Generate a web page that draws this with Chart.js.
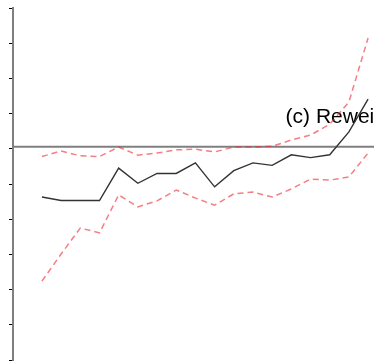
<!DOCTYPE html>
<html>
<head>
<meta charset="utf-8">
<script src="https://cdn.jsdelivr.net/npm/chart.js@4/dist/chart.umd.min.js"></script>
<style>
  html, body { margin: 0; padding: 0; background: #fff; overflow: hidden; }
  #wrap { width: 374px; height: 361px; position: relative; }
</style>
</head>
<body>
<div id="wrap"><canvas id="c"></canvas></div>
<script>
// Period index along the horizontal axis
const periods = [1, 2, 3, 4, 5, 6, 7, 8, 9, 10, 11, 12, 13, 14, 15, 16, 17, 18];

// Point estimate (solid line)
const estimate = [-0.137, -0.147, -0.147, -0.147, -0.055, -0.098, -0.070, -0.070, -0.040,
                  -0.108, -0.062, -0.040, -0.047, -0.017, -0.025, -0.017, 0.048, 0.141];

// Upper and lower confidence bounds (dashed lines)
const upperBand = [-0.022, -0.006, -0.020, -0.022, 0.005, -0.018, -0.012, -0.003, -0.001,
                   -0.009, 0.005, 0.005, 0.007, 0.025, 0.039, 0.070, 0.133, 0.315];
const lowerBand = [-0.376, -0.299, -0.225, -0.239, -0.131, -0.165, -0.148, -0.117, -0.140,
                   -0.160, -0.128, -0.123, -0.137, -0.114, -0.086, -0.089, -0.080, -0.012];

// Vertical axis tick values (labels are not shown)
const yTicks = [0.4, 0.3, 0.2, 0.1, 0.0, -0.1, -0.2, -0.3, -0.4, -0.5, -0.6];

// Horizontal reference level
const referenceLevel = 0.006;

// Panel caption
const panelLabel = '(c) Reweighted';

const toXY = arr => arr.map((v, i) => ({ x: periods[i], y: v }));

const overlay = {
  id: 'overlay',
  beforeDatasetsDraw(chart) {
    const { ctx, chartArea, scales } = chart;
    const y = scales.y.getPixelForValue(referenceLevel);
    ctx.save();
    ctx.strokeStyle = '#7f7f7f';
    ctx.lineWidth = 2;
    ctx.beginPath();
    ctx.moveTo(chartArea.left, y);
    ctx.lineTo(chart.width, y);
    ctx.stroke();

    ctx.fillStyle = '#000';
    ctx.font = '21px "Liberation Sans", Arial, sans-serif';
    ctx.textBaseline = 'alphabetic';
    ctx.textAlign = 'left';
    ctx.fillText(panelLabel, scales.x.getPixelForValue(13.7), scales.y.getPixelForValue(0.073));
    ctx.restore();
  }
};

new Chart(document.getElementById('c'), {
  type: 'line',
  data: {
    datasets: [
      {
        data: toXY(upperBand),
        borderColor: 'rgba(235, 40, 50, 0.6)',
        borderWidth: 1.5,
        borderDash: [6, 4],
        pointRadius: 0,
        tension: 0
      },
      {
        data: toXY(lowerBand),
        borderColor: 'rgba(235, 40, 50, 0.6)',
        borderWidth: 1.5,
        borderDash: [6, 4],
        pointRadius: 0,
        tension: 0
      },
      {
        data: toXY(estimate),
        borderColor: '#333333',
        borderWidth: 1.4,
        pointRadius: 0,
        tension: 0
      }
    ]
  },
  options: {
    responsive: true,
    maintainAspectRatio: false,
    animation: false,
    devicePixelRatio: 1,
    layout: { padding: { top: 8, bottom: 1, left: 0, right: 0 } },
    plugins: { legend: { display: false }, tooltip: { enabled: false }, title: { display: false } },
    scales: {
      x: {
        type: 'linear',
        display: false,
        min: -0.507,
        max: 18.308
      },
      y: {
        min: -0.6,
        max: 0.4,
        afterBuildTicks: s => { s.ticks = yTicks.map(v => ({ value: v })); },
        afterFit: s => { s.width = 13; },
        ticks: { display: false },
        grid: { drawOnChartArea: false, drawTicks: true, tickLength: 4, color: '#000', lineWidth: 1 },
        border: { display: true, color: '#7f7f7f', width: 2 }
      }
    }
  },
  plugins: [overlay]
});
</script>
</body>
</html>
